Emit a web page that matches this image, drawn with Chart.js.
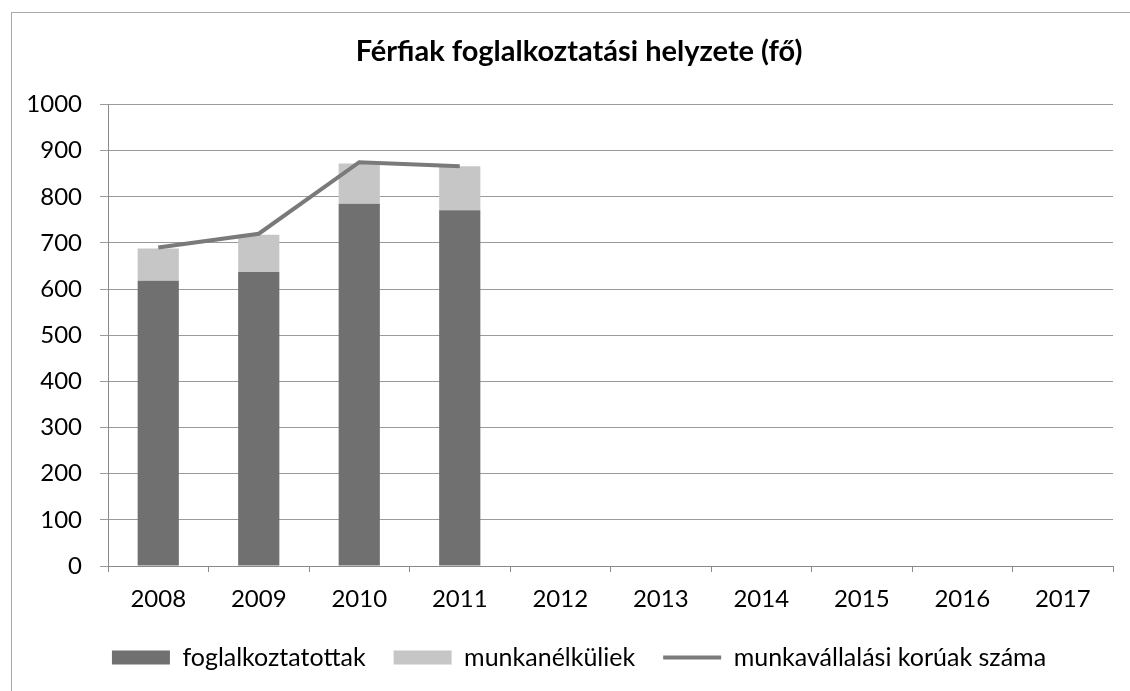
<!DOCTYPE html>
<html>
<head>
<meta charset="utf-8">
<script src="https://cdn.jsdelivr.net/npm/chart.js@4/dist/chart.umd.min.js"></script>
<style>
    html, body { margin: 0; padding: 0; background: #fff; overflow: hidden; }
    #frame { position: absolute; left: 11px; top: 12px; width: 1200px; height: 800px; border: 1px solid #a8a8a8; }
    #wrap { position: absolute; left: 0; top: 0; width: 1130px; height: 691px; }
</style>
</head>
<body>
<div id="frame"></div>
<div id="wrap"><canvas id="chart" width="1130" height="691"></canvas></div>
<script>
// Data
const years = ['2008', '2009', '2010', '2011', '2012', '2013', '2014', '2015', '2016', '2017'];
const employed = [618, 637, 785, 771, null, null, null, null, null, null];      // foglalkoztatottak
const unemployed = [70, 81, 87, 95, null, null, null, null, null, null];        // munkanélküliek
const workingAge = [690, 720, 875, 866, null, null, null, null, null, null];    // munkavállalási korúak száma
const yTicks = { min: 0, max: 1000, step: 100 };

const fontFamily = 'Lato, "Open Sans", sans-serif';

// title and legend are centred on the whole frame in the original, not on the plot
const centreShift = {
    id: 'centreShift',
    afterLayout(chart) {
        const dx = 22.5;
        [chart.titleBlock, chart.legend].forEach(box => {
            if (box) {
                box.left += dx;
                box.right += dx;
            }
        });
    }
};

const ctx = document.getElementById('chart').getContext('2d');
const chart = new Chart(ctx, {
    type: 'bar',
    data: {
        labels: years,
        datasets: [{
            label: 'foglalkoztatottak',
            data: employed,
            backgroundColor: '#707070',
            pointStyle: 'rect',
            barPercentage: 0.41,
            categoryPercentage: 1,
            order: 2
        }, {
            label: 'munkanélküliek',
            data: unemployed,
            backgroundColor: '#c6c6c6',
            pointStyle: 'rect',
            barPercentage: 0.41,
            categoryPercentage: 1,
            order: 2
        }, {
            type: 'line',
            label: 'munkavállalási korúak száma',
            data: workingAge,
            borderColor: '#7a7a7a',
            backgroundColor: '#7a7a7a',
            borderWidth: 4,
            pointRadius: 0,
            pointStyle: 'line',
            tension: 0,
            order: 1
        }]
    },
    options: {
        responsive: false,
        animation: false,
        layout: {
            padding: { left: 0, right: 17, top: 0, bottom: 11 }
        },
        plugins: {
            title: {
                display: true,
                text: 'Férfiak foglalkoztatási helyzete (fő)',
                color: '#000',
                font: { family: fontFamily, size: 29, weight: 'bold' },
                padding: { top: 34, bottom: 35.7 }
            },
            legend: {
                position: 'bottom',
                labels: {
                    color: '#000',
                    font: { family: fontFamily, size: 25 },
                    usePointStyle: true,
                    pointStyleWidth: 58,
                    boxHeight: 14,
                    padding: 28,
                    // keep the dataset order, not the drawing order
                    sort: (a, b) => a.datasetIndex - b.datasetIndex
                }
            },
            tooltip: { enabled: false }
        },
        scales: {
            x: {
                stacked: true,
                grid: {
                    display: true,
                    drawOnChartArea: false,
                    drawTicks: true,
                    tickLength: 6,
                    color: '#8a8a8a'
                },
                border: { color: '#8a8a8a' },
                ticks: {
                    color: '#000',
                    font: { family: fontFamily, size: 24 },
                    padding: 13,
                    maxRotation: 0
                },
                afterFit: function(scale) { scale.height = 51; }
            },
            y: {
                stacked: true,
                min: yTicks.min,
                max: yTicks.max,
                grid: {
                    color: '#9a9a9a',
                    tickLength: 8
                },
                border: { color: '#8a8a8a' },
                ticks: {
                    stepSize: yTicks.step,
                    color: '#000',
                    font: { family: fontFamily, size: 24 },
                    padding: 18,
                    callback: v => String(v)
                },
                afterFit: function(scale) { scale.width = 108; }
            }
        }
    },
    plugins: [centreShift]
});
</script>
</body>
</html>
